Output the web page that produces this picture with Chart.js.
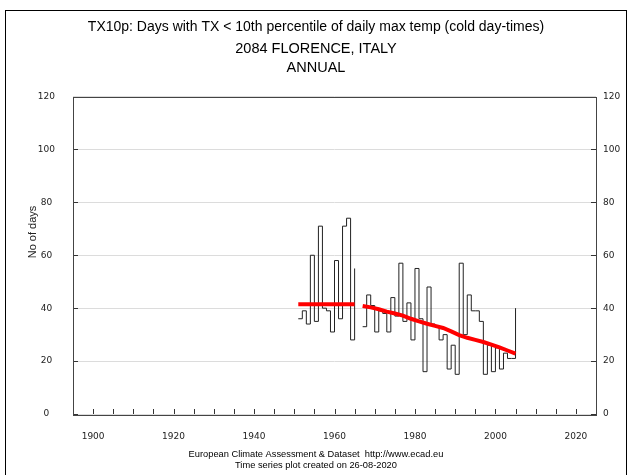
<!DOCTYPE html>
<html><head><meta charset="utf-8">
<script src="https://cdn.jsdelivr.net/npm/chart.js@4"></script>
<style>
html,body{margin:0;padding:0;background:#fff;overflow:hidden;}
#wrap{position:relative;width:632px;height:475px;}
#frame{position:absolute;left:5px;top:10px;width:620px;height:480px;border:1px solid #000;pointer-events:none;}
</style></head><body>
<div id="wrap"><canvas id="c" width="632" height="475"></canvas><div id="frame"></div></div>
<script>
// ---- data ----
const years = [1951,1952,1953,1954,1955,1956,1957,1958,1959,1960,1961,1962,1963,1964,1965,1966,1967,1968,1969,1970,
  1971,1972,1973,1974,1975,1976,1977,1978,1979,1980,1981,1982,1983,1984,1985,1986,1987,1988,1989,1990,
  1991,1992,1993,1994,1995,1996,1997,1998,1999,2000,2001,2002,2003,2004,2005];
const tx10pDays = [36,39,34,60,35,71,40,39,31,58,36,71,74,28,55,null,33,45,41,31,
  39,38,31,44,37,57,35,42,28,55,36,16,48,34,33,28,30,17,26,15,
  57,30,45,39,39,35,15,26,16,25,17,23,21,21,40];
const trendYears1 = [1951, 1965];
const trendValues1 = [41.5, 41.5];
const trendYears2 = [1967,1969,1971,1973,1975,1977,1979,1981,1983,1985,1987,1989,1991,1993,1995,1997,1999,2001,2003,2005];
const trendValues2 = [40.8,40.3,39.6,38.7,38.0,37.2,36.0,35.0,34.1,33.3,32.5,31.2,29.8,28.8,28.0,27.2,26.2,25.2,24.0,22.8];
const xMin = 1895, xMax = 2025, xTickStep = 5, xLabelStep = 20, xFirstTick = 1900, xLastTick = 2020;
const yMin = 0, yMax = 120, yStep = 20;
const titleText = 'TX10p: Days with TX < 10th percentile of daily max temp (cold day-times)';
const subtitleText = ['2084 FLORENCE, ITALY', 'ANNUAL'];
const footerText = ['European Climate Assessment & Dataset  http://www.ecad.eu', 'Time series plot created on 26-08-2020'];
const yTitle = 'No of days';

const pts = (xs, ys) => xs.map((x, i) => ({x: x, y: ys[i]}));

const framePlugin = {
  id: 'frameTicks',
  afterDraw(chart) {
    const ctx = chart.ctx, a = chart.chartArea;
    const xs = chart.scales.x, ys = chart.scales.y;
    ctx.save();
    ctx.strokeStyle = '#333';
    ctx.lineWidth = 1;
    ctx.beginPath();
    for (let v = xFirstTick; v <= xLastTick; v += xTickStep) {
      const px = Math.round(xs.getPixelForValue(v)) + 0.5;
      ctx.moveTo(px, a.bottom); ctx.lineTo(px, a.bottom - 5);
    }
    for (let v = yMin; v <= yMax; v += yStep) {
      const py = Math.round(ys.getPixelForValue(v)) + 0.5;
      ctx.moveTo(a.left, py); ctx.lineTo(a.left + 5, py);
      ctx.moveTo(a.right, py); ctx.lineTo(a.right - 5, py);
    }
    ctx.stroke();
    ctx.strokeStyle = '#444';
    ctx.strokeRect(Math.round(a.left) + 0.5, Math.round(a.top) + 0.5, Math.round(a.right - a.left), Math.round(a.bottom - a.top));
    // footer, centred on the page
    ctx.fillStyle = '#000';
    ctx.font = '9.3px "Liberation Sans", Arial, sans-serif';
    ctx.textAlign = 'center';
    ctx.textBaseline = 'middle';
    footerText.forEach((t, i) => ctx.fillText(t, chart.width / 2, 454 + i * 11));
    // y axis title
    ctx.fillStyle = '#222';
    ctx.font = '11px "Liberation Sans", Arial, sans-serif';
    ctx.translate(33, 232);
    ctx.rotate(-Math.PI / 2);
    ctx.fillText(yTitle, 0, 0);
    ctx.restore();
  }
};

const tickFont = {family: '"DejaVu Sans", Verdana, sans-serif', size: 9};

new Chart(document.getElementById('c'), {
  type: 'line',
  data: {
    datasets: [
      {data: pts(trendYears1, trendValues1), borderColor: '#ff0000', borderWidth: 4, pointRadius: 0, fill: false, tension: 0},
      {data: pts(trendYears2, trendValues2), borderColor: '#ff0000', borderWidth: 4, pointRadius: 0, fill: false, tension: 0},
      {data: pts(years, tx10pDays), borderColor: '#222', borderWidth: 1, pointRadius: 0, fill: false, stepped: true, spanGaps: false}
    ]
  },
  options: {
    responsive: false,
    animation: false,
    devicePixelRatio: 1,
    layout: {padding: 0},
    plugins: {
      legend: {display: false},
      tooltip: {enabled: false},
      title: {display: true, text: titleText, color: '#000',
        font: {family: '"Liberation Sans", Arial, sans-serif', size: 14, weight: 'normal', lineHeight: 1.2},
        padding: {top: 19, bottom: 0}},
      subtitle: {display: true, text: subtitleText, color: '#000',
        font: {family: '"Liberation Sans", Arial, sans-serif', size: 14.5, weight: 'normal', lineHeight: 1.3},
        padding: {top: 4, bottom: 19}}
    },
    scales: {
      x: {type: 'linear', position: 'bottom', min: xMin, max: xMax,
        grid: {display: false}, border: {display: false},
        ticks: {stepSize: xTickStep, autoSkip: false, maxRotation: 0, color: '#222', font: tickFont, padding: 9,
          callback: (v) => (v % xLabelStep === 0 && v >= xFirstTick && v <= xLastTick) ? String(v) : ''},
        afterFit: (s) => { s.height = 61; }
      },
      y: {position: 'left', min: yMin, max: yMax,
        grid: {color: '#dcdcdc', drawTicks: false}, border: {display: false},
        ticks: {stepSize: yStep, color: '#222', font: tickFont, padding: 18, crossAlign: 'center'},
        afterFit: (s) => { s.width = 73; }
      },
      y2: {position: 'right', min: yMin, max: yMax,
        grid: {display: false, drawTicks: false}, border: {display: false},
        ticks: {stepSize: yStep, color: '#222', font: tickFont, padding: 7},
        afterFit: (s) => { s.width = 36; }
      }
    }
  },
  plugins: [framePlugin]
});
</script>
</body></html>
